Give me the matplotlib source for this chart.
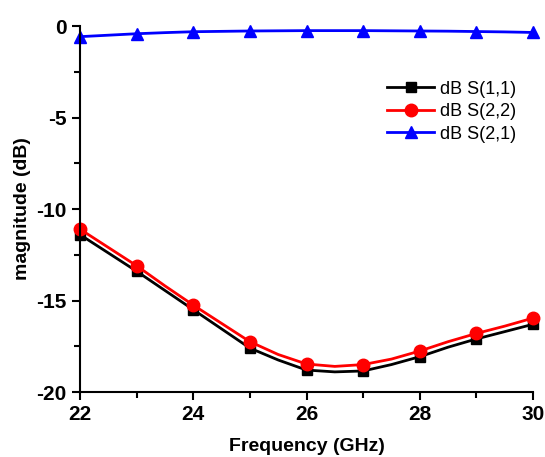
import numpy as np
import matplotlib
matplotlib.use('Agg')
import matplotlib.pyplot as plt
from matplotlib.ticker import MultipleLocator

# frequency points (GHz), markers every 1 GHz
freq = [22, 22.5, 23, 23.5, 24, 24.5, 25, 25.5, 26, 26.5, 27, 27.5, 28, 28.5, 29, 29.5, 30]
s11 = [-11.4, -12.4, -13.4, -14.45, -15.5, -16.55, -17.6, -18.25, -18.8, -18.9, -18.85, -18.5, -18.07, -17.55, -17.1, -16.7, -16.3]
s22 = [-11.1, -12.1, -13.1, -14.2, -15.25, -16.25, -17.25, -17.95, -18.47, -18.6, -18.5, -18.2, -17.76, -17.25, -16.8, -16.4, -15.96]
s21 = [-0.58, -0.5, -0.42, -0.36, -0.31, -0.29, -0.27, -0.26, -0.25, -0.25, -0.25, -0.26, -0.27, -0.28, -0.3, -0.32, -0.35]

plt.rcParams['font.family'] = ['Liberation Sans', 'DejaVu Sans']
plt.rcParams['axes.unicode_minus'] = False

fig = plt.figure(figsize=(5.45, 4.57), dpi=100)
ax = fig.add_axes([0.1468, 0.1422, 0.978 - 0.1468, 0.943 - 0.1422])

ax.plot(freq, s11, color='black', lw=2, marker='s', ms=7.5, markevery=2, clip_on=False, label='dB S(1,1)')
ax.plot(freq, s22, color='red', lw=2, marker='o', ms=9, markevery=2, clip_on=False, label='dB S(2,2)')
ax.plot(freq, s21, color='blue', lw=2, marker='^', ms=9, markevery=2, clip_on=False, label='dB S(2,1)')

ax.set_xlim(22, 30)
ax.set_ylim(-20, 0)
ax.xaxis.set_major_locator(MultipleLocator(2))
ax.xaxis.set_minor_locator(MultipleLocator(1))
ax.yaxis.set_major_locator(MultipleLocator(5))
ax.yaxis.set_minor_locator(MultipleLocator(2.5))

for side in ['top', 'right']:
    ax.spines[side].set_visible(False)
for side in ['left', 'bottom']:
    ax.spines[side].set_linewidth(1.5)

ax.tick_params(which='major', direction='out', length=6, width=1.5, labelsize=15)
ax.tick_params(which='minor', direction='out', length=4, width=1.5)
for lbl in ax.get_xticklabels() + ax.get_yticklabels():
    lbl.set_fontweight('bold')

ax.set_xlabel('Frequency (GHz)', fontsize=14, fontweight='bold', labelpad=10)
ax.set_ylabel('magnitude (dB)', fontsize=14, fontweight='bold', labelpad=4)

ax.legend(loc='upper right', bbox_to_anchor=(0.99, 0.885), frameon=False, fontsize=13,
          handlelength=2.6, handletextpad=0.3, labelspacing=0.3, borderpad=0.2)

fig.savefig('out.png', dpi=100)
